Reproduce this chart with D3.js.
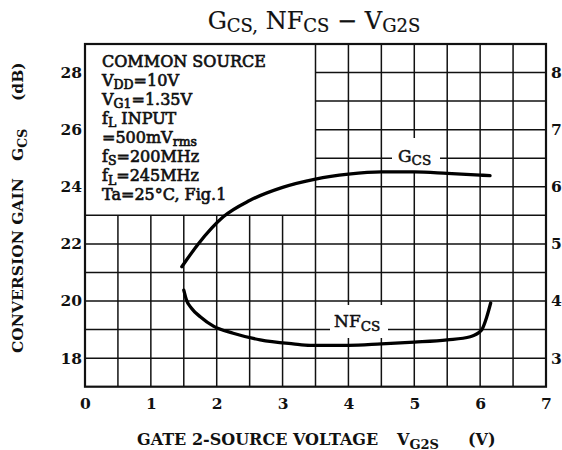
<!DOCTYPE html>
<html>
<head>
<meta charset="utf-8">
<script src="https://cdn.jsdelivr.net/npm/d3@7/dist/d3.min.js"></script>
<style>
  html, body { margin: 0; padding: 0; background: #fff; }
  svg { display: block; }
  text { font-family: "DejaVu Serif", serif; fill: #111; }
</style>
</head>
<body>
<svg id="chart" width="562" height="450"></svg>
<script>
// ---- data ----
const xTicks = [0, 1, 2, 3, 4, 5, 6, 7];
const gainTicks = [18, 20, 22, 24, 26, 28];
const nfTicks = [3, 4, 5, 6, 7, 8];

const gcsVolt = [1.47, 1.72, 2.1, 2.5, 3.0, 3.5, 4.0, 4.5, 5.0, 5.5, 6.0, 6.15];
const gcsGain = [21.2, 22.0, 22.95, 23.52, 23.98, 24.27, 24.44, 24.52, 24.52, 24.47, 24.41, 24.39];

const nfVolt = [1.50, 1.54, 1.62, 1.75, 1.95, 2.25, 2.66, 3.16, 3.42, 4.0, 4.5, 5.0, 5.5, 5.85, 6.02, 6.1, 6.16];
const nfValue = [4.19, 4.02, 3.87, 3.725, 3.56, 3.435, 3.32, 3.25, 3.225, 3.225, 3.25, 3.28, 3.32, 3.375, 3.49, 3.72, 3.965];

const conditionLines = [
  [["COMMON SOURCE"]],
  [["V"], ["DD", "sub"], ["=10V"]],
  [["V"], ["G1", "sub"], ["=1.35V"]],
  [["f"], ["L", "sub"], [" INPUT"]],
  [["=500mV"], ["rms", "sub"]],
  [["f"], ["S", "sub"], ["=200MHz"]],
  [["f"], ["L", "sub"], ["=245MHz"]],
  [["Ta=25°C, Fig.1"]]
];

// ---- layout ----
const svg = d3.select("#chart");
const L = 85, R = 546, T = 44, B = 386.7;
const x = d3.scaleLinear().domain([0, 7]).range([L, R]);
const yG = d3.scaleLinear().domain([17, 29]).range([B, T]);
const yN = d3.scaleLinear().domain([2.5, 8.5]).range([B, T]);

const grid = svg.append("g").attr("stroke", "#111").attr("stroke-width", 1.5);
d3.range(18, 29).forEach(g => {
  grid.append("line")
    .attr("x1", g >= 24 ? x(3.5) : x(0)).attr("x2", x(7))
    .attr("y1", yG(g)).attr("y2", yG(g));
});
d3.range(0.5, 7, 0.5).forEach(v => {
  grid.append("line")
    .attr("x1", x(v)).attr("x2", x(v))
    .attr("y1", yG(17)).attr("y2", v < 3.5 ? yG(23) : yG(29));
});
svg.append("rect")
  .attr("x", x(0)).attr("y", yG(29))
  .attr("width", x(7) - x(0)).attr("height", yG(17) - yG(29))
  .attr("fill", "none").attr("stroke", "#111").attr("stroke-width", 2.2);

// white backgrounds for curve labels
svg.append("rect").attr("x", 392).attr("y", 138).attr("width", 48).attr("height", 34).attr("fill", "#fff");
svg.append("rect").attr("x", 330).attr("y", 305).attr("width", 58).attr("height", 33).attr("fill", "#fff");

// curves
const lineG = d3.line().x(d => x(d[0])).y(d => yG(d[1])).curve(d3.curveMonotoneX);
const lineN = d3.line().x(d => x(d[0])).y(d => yN(d[1])).curve(d3.curveMonotoneX);
svg.append("path").attr("d", lineG(d3.zip(gcsVolt, gcsGain)))
  .attr("fill", "none").attr("stroke", "#000").attr("stroke-width", 3.3).attr("stroke-linecap", "round");
svg.append("path").attr("d", lineN(d3.zip(nfVolt, nfValue)))
  .attr("fill", "none").attr("stroke", "#000").attr("stroke-width", 3.3).attr("stroke-linecap", "round");

// axes (labels only)
const axL = svg.append("g").attr("transform", `translate(${L - 3},0)`)
  .call(d3.axisLeft(yG).tickValues(gainTicks).tickSize(0).tickPadding(0).tickFormat(d3.format("d")));
const axR = svg.append("g").attr("transform", `translate(${R + 5},0)`)
  .call(d3.axisRight(yN).tickValues(nfTicks).tickSize(0).tickPadding(0).tickFormat(d3.format("d")));
const axB = svg.append("g").attr("transform", `translate(0,${B + 9})`)
  .call(d3.axisBottom(x).tickValues(xTicks).tickSize(0).tickPadding(0).tickFormat(d3.format("d")));
[axL, axR, axB].forEach(a => {
  a.select(".domain").remove();
  a.selectAll("text").attr("font-family", "DejaVu Serif").attr("font-size", 15.5)
    .attr("font-weight", "bold").attr("fill", "#111");
});
axB.selectAll("text").attr("dy", "0.85em");

// helper for text with subscripts
function rich(sel, parts, size, subSize, subDy) {
  let offset = 0;
  parts.forEach(p => {
    const isSub = p[1] === "sub";
    const target = isSub ? subDy : 0;
    sel.append("tspan")
      .attr("font-size", isSub ? subSize : size)
      .attr("dy", target - offset)
      .text(p[0]);
    offset = target;
  });
}

// title
const title = svg.append("text").attr("x", 314).attr("y", 28.5).attr("text-anchor", "middle")
  .attr("font-size", 24).attr("stroke", "#111").attr("stroke-width", 0.2);
rich(title, [["G"], ["CS,", "sub"], [" NF"], ["CS", "sub"], [" \u2212 "], ["V"], ["G2S", "sub"]], 24, 18, 3);

// conditions box text
conditionLines.forEach((parts, i) => {
  const t = svg.append("text").attr("x", 102).attr("y", 66.7 + i * 19.05)
    .attr("font-size", 16).attr("stroke", "#111").attr("stroke-width", 0.65);
  rich(t, parts, 16, 12.5, 3.5);
});

// curve labels
const gl = svg.append("text").attr("x", 398).attr("y", 161.7).attr("stroke", "#111").attr("stroke-width", 0.5);
rich(gl, [["G"], ["CS", "sub"]], 17, 13.5, 3.5);
const nl = svg.append("text").attr("x", 334).attr("y", 326.7).attr("stroke", "#111").attr("stroke-width", 0.5);
rich(nl, [["NF"], ["CS", "sub"]], 17, 13.5, 4);

// x axis title
const xt = svg.append("text").attr("y", 445).attr("font-size", 16).attr("font-weight", "bold");
xt.append("tspan").attr("x", 137).text("GATE 2-SOURCE VOLTAGE");
xt.append("tspan").attr("x", 397).text("V");
xt.append("tspan").attr("font-size", 13).attr("dy", 3.5).text("G2S");
xt.append("tspan").attr("x", 468).attr("dy", -3.5).text("(V)");

// y axis title
const yt = svg.append("text").attr("transform", "translate(23,353) rotate(-90)")
  .attr("font-size", 15.5).attr("font-weight", "bold");
yt.append("tspan").attr("x", 0).text("CONVERSION GAIN");
yt.append("tspan").attr("x", 192).text("G");
yt.append("tspan").attr("font-size", 12.5).attr("dy", 3.5).text("CS");
yt.append("tspan").attr("x", 252).attr("dy", -3.5).text("(dB)");
</script>
</body>
</html>
